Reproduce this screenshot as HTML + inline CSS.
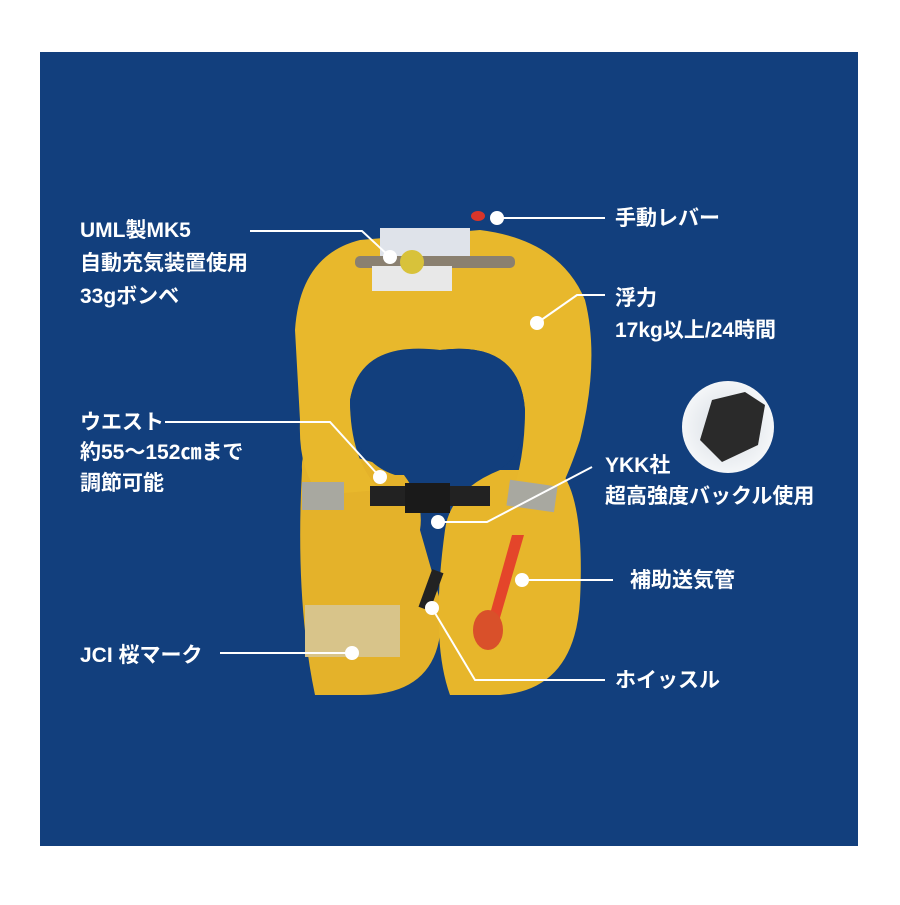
<!DOCTYPE html>
<html><head><meta charset="utf-8"><style>
html,body{margin:0;padding:0;background:#fff;}
.t{font-family:"Liberation Sans","Noto Sans CJK JP",sans-serif;font-weight:bold;fill:#fff;font-size:21px;}
</style></head><body>
<svg width="900" height="900" viewBox="0 0 900 900" xmlns="http://www.w3.org/2000/svg">
<rect width="900" height="900" fill="#fff"/>
<rect x="40" y="52" width="818" height="794" fill="#123f7d"/>
<defs><radialGradient id="g" cx="0.5" cy="0.5" r="0.5"><stop offset="0" stop-color="#d5dbe2"/><stop offset="1" stop-color="#f4f6f8"/></radialGradient></defs>
<circle cx="728" cy="427" r="46" fill="url(#g)"/>
<path d="M700 440 L712 400 L745 392 L765 405 L758 445 L722 462 Z" fill="#2a2a2a"/>
<path d="M302 470 Q300 440 330 450 L400 470 Q425 500 420 530 L440 600 Q450 695 360 695 L315 695 Q295 600 302 470 Z" fill="#e4b22a"/>
<path d="M445 530 Q450 490 500 470 L560 470 Q585 500 580 600 Q575 690 500 695 L450 695 Q430 640 445 530 Z" fill="#e7b62b"/>
<path d="M295 330 Q300 255 360 240 L480 230 Q560 240 585 300 Q600 360 580 440 Q570 470 560 490 L510 500 Q525 460 525 410 Q520 340 440 350 Q360 340 350 400 Q350 460 380 490 L320 495 Q298 470 300 420 Z" fill="#e8b82c"/>
<path d="M350 400 Q360 345 440 350 Q520 340 525 410 Q525 470 480 475 L395 475 Q350 460 350 400 Z" fill="#123f7d"/>
<rect x="302" y="482" width="42" height="28" fill="#a8a8a0"/>
<rect x="508" y="483" width="48" height="26" fill="#a8a8a0" transform="rotate(8 532 496)"/>
<rect x="370" y="486" width="120" height="20" fill="#222"/>
<rect x="405" y="483" width="45" height="30" fill="#1a1a1a"/>
<rect x="380" y="228" width="90" height="35" fill="#dfe3ea"/>
<rect x="355" y="256" width="160" height="12" rx="5" fill="#8a8070"/>
<rect x="372" y="266" width="80" height="25" fill="#e8e8e8"/>
<circle cx="412" cy="262" r="12" fill="#d8c23a"/>
<ellipse cx="478" cy="216" rx="7" ry="5" fill="#d8352a"/>
<rect x="305" y="605" width="95" height="52" fill="#d8c48a"/>
<path d="M512 535 L524 535 L495 635 L485 632 Z" fill="#e4452a"/>
<ellipse cx="488" cy="630" rx="15" ry="20" fill="#d9502a"/>
<rect x="425" y="570" width="12" height="40" fill="#222" transform="rotate(20 431 590)"/>
<g stroke="#fff" stroke-width="2" fill="none">
<polyline points="250,231 362,231 390,257"/>
<line x1="497" y1="218" x2="605" y2="218"/>
<polyline points="537,323 577,295 605,295"/>
<polyline points="165,422 330,422 380,477"/>
<polyline points="438,522 487,522 592,467"/>
<line x1="522" y1="580" x2="613" y2="580"/>
<line x1="220" y1="653" x2="352" y2="653"/>
<polyline points="432,608 475,680 605,680"/>
</g>
<g fill="#fff">
<circle cx="390" cy="257" r="7"/><circle cx="497" cy="218" r="7"/><circle cx="537" cy="323" r="7"/>
<circle cx="380" cy="477" r="7"/><circle cx="438" cy="522" r="7"/><circle cx="522" cy="580" r="7"/>
<circle cx="352" cy="653" r="7"/><circle cx="432" cy="608" r="7"/>
</g>
<text class="t" x="80" y="237">UML製MK5</text>
<text class="t" x="80" y="270">自動充気装置使用</text>
<text class="t" x="80" y="303">33gボンベ</text>
<text class="t" x="80" y="429">ウエスト</text>
<text class="t" x="80" y="459">約55～152㎝まで</text>
<text class="t" x="80" y="490">調節可能</text>
<text class="t" x="80" y="662">JCI 桜マーク</text>
<text class="t" x="615" y="225">手動レバー</text>
<text class="t" x="615" y="305">浮力</text>
<text class="t" x="615" y="337">17kg以上/24時間</text>
<text class="t" x="605" y="472">YKK社</text>
<text class="t" x="605" y="503">超高強度バックル使用</text>
<text class="t" x="630" y="587">補助送気管</text>
<text class="t" x="615" y="687">ホイッスル</text>
</svg>
</body></html>
